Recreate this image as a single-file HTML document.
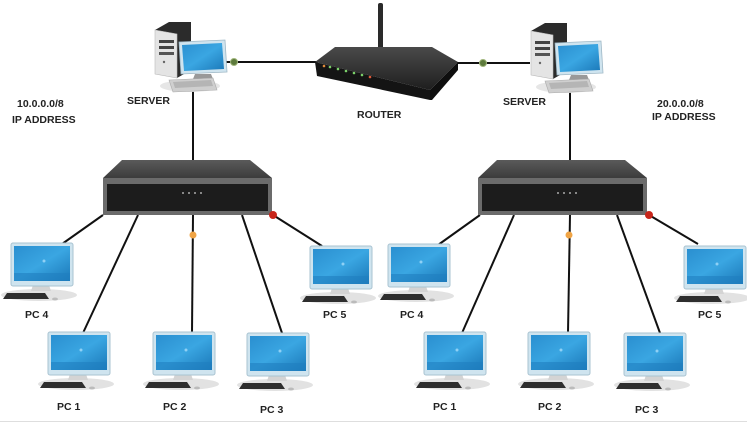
<!DOCTYPE html>
<html><head><meta charset="utf-8"><style>
html,body{margin:0;padding:0;background:#fff;}
svg{display:block;}
text{font-family:"Liberation Sans",sans-serif;font-weight:bold;fill:#222;font-size:10.5px;}
</style></head><body>
<svg width="747" height="425" viewBox="0 0 747 425" xmlns="http://www.w3.org/2000/svg">
<defs>
<linearGradient id="scr" x1="0" y1="0" x2="1" y2="1">
<stop offset="0" stop-color="#2a8fd0"/><stop offset="0.5" stop-color="#3aa6e2"/><stop offset="1" stop-color="#1b78b8"/>
</linearGradient>
<linearGradient id="sw" x1="0" y1="0" x2="0" y2="1">
<stop offset="0" stop-color="#5a5a5a"/><stop offset="1" stop-color="#3c3c3c"/>
</linearGradient>
<linearGradient id="rt" x1="0" y1="0" x2="0" y2="1">
<stop offset="0" stop-color="#4a4a4a"/><stop offset="1" stop-color="#1e1e1e"/>
</linearGradient>
<g id="pc">
<ellipse cx="28" cy="52" rx="38" ry="6" fill="#e2e2e2"/>
<polygon points="22,42 38,42 40,48 20,48" fill="#d4d4d4"/>
<rect x="0" y="0" width="62" height="43" rx="2" fill="#cfe4ef" stroke="#a9c3d1" stroke-width="1"/>
<rect x="3" y="3" width="56" height="35" fill="url(#scr)"/>
<rect x="3" y="30" width="56" height="8" fill="#1f7fc0" opacity="0.6"/>
<circle cx="33" cy="18" r="1.5" fill="#8fd0f5"/>
<polygon points="-4,50 34,50 38,56 -8,56" fill="#2e2e2e"/>
<ellipse cx="44" cy="56" rx="3" ry="1.5" fill="#bbb"/>
</g>
<g id="srv">
<ellipse cx="35" cy="64" rx="30" ry="6" fill="#e6e6e6"/>
<polygon points="0,8 14,0 36,0 36,48 22,56 0,52" fill="#2b2b2b"/>
<polygon points="0,8 22,12 22,56 0,52" fill="#e4e4e4" stroke="#bbb" stroke-width="0.6"/>
<rect x="4" y="18" width="15" height="3" fill="#444"/>
<rect x="4" y="24" width="15" height="3" fill="#444"/>
<rect x="4" y="30" width="15" height="3" fill="#555"/>
<circle cx="9" cy="40" r="1.2" fill="#666"/>
<polygon points="24,20 70,18 72,50 26,52" fill="#cfe4ef" stroke="#9fb8c6" stroke-width="0.8"/>
<polygon points="27,23 67,21 69,47 29,49" fill="url(#scr)"/>
<polygon points="40,52 56,52 58,57 38,57" fill="#999"/>
<polygon points="14,58 58,56 62,68 18,70" fill="#cfcfcf" stroke="#aaa" stroke-width="0.6"/>
<polygon points="18,60 56,58 58,64 20,66" fill="#b5b5b5"/>
</g>
<g id="switch">
<polygon points="19,0 147,0 169,18 0,18" fill="url(#sw)"/>
<rect x="0" y="18" width="169" height="37" fill="#6b6b6b"/>
<rect x="4" y="24" width="161" height="27" fill="#1c1c1c"/>
<circle cx="80" cy="33" r="1" fill="#aaa"/>
<circle cx="86" cy="33" r="1" fill="#aaa"/>
<circle cx="92" cy="33" r="1" fill="#aaa"/>
<circle cx="98" cy="33" r="1" fill="#aaa"/>
</g>
</defs>

<g stroke="#111" stroke-width="2" fill="none">
<line x1="225" y1="62" x2="318" y2="62"/>
<line x1="457" y1="63" x2="530" y2="63"/>
<line x1="193" y1="90" x2="193" y2="162"/>
<line x1="570" y1="90" x2="570" y2="162"/>
<line x1="103" y1="215" x2="62" y2="244"/>
<line x1="138" y1="215" x2="83" y2="333"/>
<line x1="193" y1="215" x2="192" y2="333"/>
<line x1="242" y1="215" x2="282" y2="333"/>
<line x1="273" y1="215" x2="322" y2="246"/>
<line x1="480" y1="215" x2="438" y2="245"/>
<line x1="514" y1="215" x2="462" y2="333"/>
<line x1="570" y1="215" x2="568" y2="333"/>
<line x1="617" y1="215" x2="660" y2="333"/>
<line x1="649" y1="215" x2="698" y2="244"/>
</g>

<rect x="378" y="3" width="5" height="46" rx="2" fill="#2a2a2a"/>
<polygon points="315,62 335,47 432,47 458,62 430,90" fill="url(#rt)"/>
<polygon points="315,62 430,90 430,100 317,76" fill="#141414"/>
<polygon points="430,90 458,62 458,70 432,100 430,100" fill="#0e0e0e"/>
<g fill="#7bd06a"><circle cx="330" cy="67" r="1.3"/><circle cx="338" cy="69" r="1.3"/><circle cx="346" cy="71" r="1.3"/><circle cx="354" cy="73" r="1.3"/><circle cx="362" cy="75" r="1.3"/></g>
<circle cx="324" cy="66" r="1.3" fill="#e08a3a"/>
<circle cx="370" cy="77" r="1.3" fill="#e05a3a"/>

<use href="#srv" x="155" y="22"/>
<use href="#srv" x="531" y="23"/>

<use href="#switch" x="103" y="160"/>
<use href="#switch" x="478" y="160"/>

<circle cx="234" cy="62" r="3.5" fill="#5d7a3c" stroke="#9fb57a" stroke-width="1"/>
<circle cx="483" cy="63" r="3.5" fill="#5d7a3c" stroke="#9fb57a" stroke-width="1"/>
<circle cx="273" cy="215" r="4" fill="#c8261b"/>
<circle cx="649" cy="215" r="4" fill="#c8261b"/>
<circle cx="193" cy="235" r="3.5" fill="#f0a445"/>
<circle cx="569" cy="235" r="3.5" fill="#f0a445"/>

<use href="#pc" x="11" y="243"/>
<use href="#pc" x="48" y="332"/>
<use href="#pc" x="153" y="332"/>
<use href="#pc" x="247" y="333"/>
<use href="#pc" x="310" y="246"/>
<use href="#pc" x="388" y="244"/>
<use href="#pc" x="424" y="332"/>
<use href="#pc" x="528" y="332"/>
<use href="#pc" x="624" y="333"/>
<use href="#pc" x="684" y="246"/>

<text x="127" y="104">SERVER</text>
<text x="503" y="105">SERVER</text>
<text x="357" y="118">ROUTER</text>
<text x="17" y="107">10.0.0.0/8</text>
<text x="12" y="123">IP ADDRESS</text>
<text x="657" y="107">20.0.0.0/8</text>
<text x="652" y="120">IP ADDRESS</text>
<text x="25" y="318">PC 4</text>
<text x="57" y="410">PC 1</text>
<text x="163" y="410">PC 2</text>
<text x="260" y="413">PC 3</text>
<text x="323" y="318">PC 5</text>
<text x="400" y="318">PC 4</text>
<text x="433" y="410">PC 1</text>
<text x="538" y="410">PC 2</text>
<text x="635" y="413">PC 3</text>
<text x="698" y="318">PC 5</text>

<line x1="0" y1="421.5" x2="747" y2="421.5" stroke="#dedede" stroke-width="1"/>
</svg>
</body></html>
